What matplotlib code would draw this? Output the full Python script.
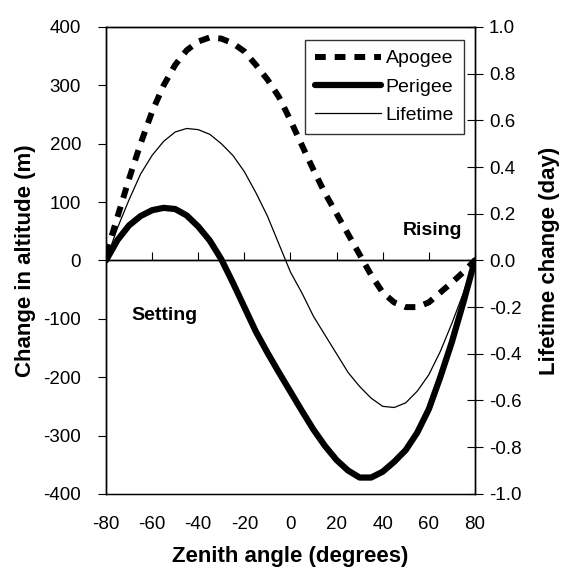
import matplotlib.pyplot as plt
import numpy as np

plt.rcParams['font.family'] = ['Liberation Sans', 'DejaVu Sans']
plt.rcParams['axes.unicode_minus'] = False

# Angulo zenital (graus)
zenite = [-80, -75, -70, -65, -60, -55, -50, -45, -40, -35, -30, -25, -20, -15, -10, -5,
          0, 5, 10, 15, 20, 25, 30, 35, 40, 45, 50, 55, 60, 65, 70, 75, 80]

# Variacao de altitude (m)
apogeu = [10, 75, 140, 200, 255, 300, 335, 360, 375, 382, 380, 372, 358, 335, 310, 280,
          240, 197, 155, 115, 80, 45, 10, -25, -55, -72, -80, -80, -72, -55, -38, -20, 0]
perigeu = [0, 35, 60, 76, 86, 90, 88, 77, 58, 34, 2, -38, -80, -122, -158, -192,
           -225, -258, -290, -318, -342, -360, -372, -372, -362, -345, -325, -295, -255, -200, -140, -72, 0]

# Variacao do tempo de vida (dias)
vida = [0, 0.14, 0.26, 0.37, 0.45, 0.51, 0.55, 0.565, 0.56, 0.54, 0.50, 0.45, 0.38, 0.29, 0.19, 0.07,
        -0.05, -0.14, -0.24, -0.32, -0.40, -0.48, -0.54, -0.59, -0.625, -0.63, -0.61, -0.56, -0.49, -0.39, -0.27, -0.14, 0]

xticks = [-80, -60, -40, -20, 0, 20, 40, 60, 80]
yticks_alt = [-400, -300, -200, -100, 0, 100, 200, 300, 400]
yticks_vida = [-1.0, -0.8, -0.6, -0.4, -0.2, 0.0, 0.2, 0.4, 0.6, 0.8, 1.0]


fig = plt.figure(figsize=(5.64, 5.69), dpi=100)
ax = fig.add_axes([0.188, 0.132, 0.654, 0.8207])

l1, = ax.plot(zenite, apogeu, c='black', lw=4.3, linestyle=(0, (1.8, 1.5)), label='Apogee')
l2, = ax.plot(zenite, perigeu, c='black', lw=4.5, solid_capstyle='round', label='Perigee')
ax.axhline(0, c='black', lw=1)

ax.set_xlim(-80, 80)
ax.set_ylim(-400, 400)
ax.set_yticks(yticks_alt)
ax.set_ylabel('Change in altitude (m)', fontsize=16, fontweight='bold', labelpad=5)
ax.tick_params(axis='y', direction='out', length=6, labelsize=13.5, pad=12)

# eixo x cruzando em zero, com ticks para cima
ax.spines['bottom'].set_position(('data', 0))
ax.set_xticks(xticks)
ax.tick_params(axis='x', direction='in', length=6, labelbottom=False)

sec = ax.secondary_xaxis('bottom')
sec.set_xticks(xticks)
sec.tick_params(length=0, labelsize=13.5, pad=16)
sec.set_xlabel('Zenith angle (degrees)', fontsize=16, fontweight='bold', labelpad=9)

ax2 = ax.twinx()
l3, = ax2.plot(zenite, vida, c='black', lw=0.9, label='Lifetime')
ax2.set_ylim(-1.0, 1.0)
ax2.set_yticks(yticks_vida)
ax2.set_yticklabels(['%.1f' % v for v in yticks_vida])
ax2.tick_params(axis='y', direction='inout', length=12, labelsize=13.5, pad=4)
ax2.set_ylabel('Lifetime change (day)', fontsize=16, fontweight='bold', labelpad=13)

for a in (ax, ax2):
    for s in a.spines.values():
        s.set_linewidth(1)

ax.text(0.886, 0.565, 'Rising', transform=ax.transAxes, fontsize=14, fontweight='bold',
        ha='center', va='center')
ax.text(0.157, 0.383, 'Setting', transform=ax.transAxes, fontsize=14, fontweight='bold',
        ha='center', va='center')

leg = ax2.legend(handles=[l1, l2, l3], loc='upper right', bbox_to_anchor=(0.97, 0.972),
                 fontsize=14, frameon=True, fancybox=False, edgecolor='black',
                 handlelength=3.4, handletextpad=0.25, borderpad=0.5, labelspacing=0.55,
                 borderaxespad=0)
leg.get_frame().set_linewidth(1)

plt.savefig('out.png', dpi=100)
